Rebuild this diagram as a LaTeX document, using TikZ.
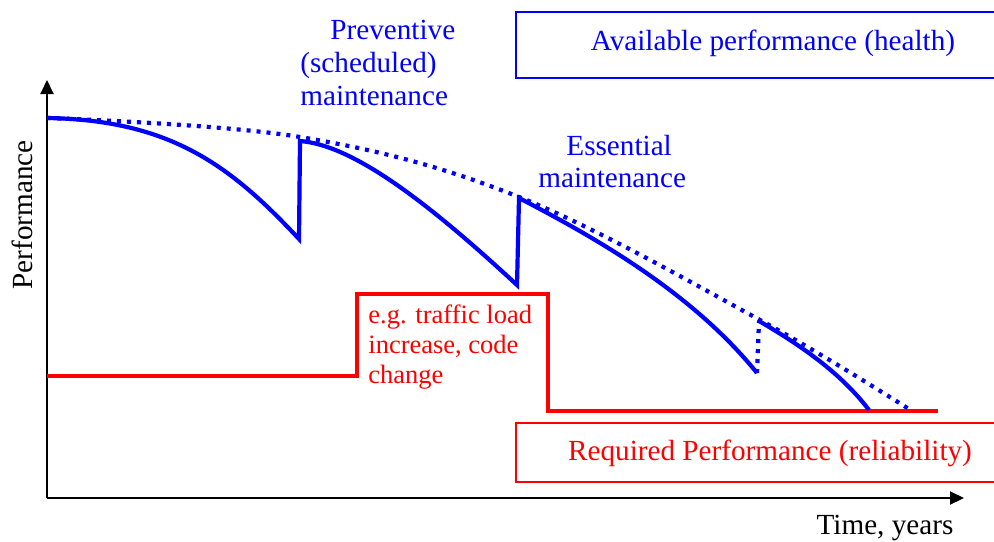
\documentclass[tikz,border=0pt]{standalone}
\usepackage{fontspec}
\setmainfont{Liberation Serif}
\usetikzlibrary{arrows.meta}
\definecolor{pblue}{RGB}{0,0,255}
\definecolor{pred}{RGB}{255,0,0}
\begin{document}
\begin{tikzpicture}[x=0.5pt,y=-0.5pt,
  lbl/.style={inner sep=0pt,font=\fontsize{14.6}{16.5}\selectfont},
  blab/.style={lbl,text=pblue},
  rlab/.style={lbl,text=pred},
  axis/.style={line width=1pt,-{Triangle[length=7pt,width=6.5pt]}},
  solidperf/.style={pblue,line width=2.1pt,line join=miter},
  dotperf/.style={pblue,line width=2.1pt,dash pattern=on 2pt off 3pt},
  reqline/.style={pred,line width=2.1pt},
  bluebox/.style={draw=pblue,line width=1pt},
  redbox/.style={draw=pred,line width=1pt}]
\useasboundingbox (0,0) rectangle (994,541);
% axes
\coordinate (O) at (47,498);
\coordinate (Ytop) at (47,80);
\coordinate (Xend) at (964,498);
\draw[axis] (O) -- (Ytop);
\draw[axis] (O) -- (Xend);
% boxes
\draw[bluebox] (516,12) rectangle (1004,78);
\node[blab,anchor=base] (avail) at (773,50) {Available performance (health)};
\draw[redbox] (516,423) rectangle (1004,482);
\node[rlab,anchor=base] (req) at (770,460) {Required Performance (reliability)};
% labels
\node[lbl,rotate=90] (perf) at (22,215) {Performance};
\node[lbl,anchor=base] (time) at (885,534) {Time, years};
\node[blab,anchor=base west,align=left] (prev) at (300,105) {\hspace*{15pt}Preventive\\(scheduled)\\maintenance};
\node[blab,anchor=base west,align=left,font=\fontsize{14.6}{16}\selectfont] (ess) at (538,187) {\hspace*{14pt}Essential\\maintenance};
\node[rlab,anchor=base west,align=left,font=\fontsize{13.25}{15}\selectfont] (eg) at (368,383) {e.g. traffic load\\increase, code\\change};
% required performance line
\coordinate (r0) at (47,376);
\coordinate (r1) at (357,376);
\coordinate (r2) at (357,294);
\coordinate (r3) at (548,294);
\coordinate (r4) at (548,411);
\coordinate (r5) at (938,411);
\draw[reqline] (r0) -- (r1) -- (r2) -- (r3) -- (r4) -- (r5);
% envelope
\draw[dotperf] plot[smooth,tension=0.6] coordinates {(47,118) (300,137) (519,197) (760,320) (912,411)};
% performance curve
\coordinate (p0) at (47,118);
\coordinate (p1) at (299,239);
\coordinate (p2) at (300,141);
\coordinate (p3) at (517,285);
\coordinate (p4) at (519,198);
\coordinate (p5) at (757,373);
\coordinate (p6) at (759,321);
\coordinate (p7) at (869,410);
\draw[solidperf] (p0) .. controls (170,120) and (230,165) .. (p1) -- (p2)
  .. controls (350,145) and (420,195) .. (p3) -- (p4)
  .. controls (590,235) and (690,290) .. (p5);
\draw[dotperf] (p5) -- (p6);
\draw[solidperf] (p6) .. controls (800,345) and (840,372) .. (p7);
\end{tikzpicture}
\end{document}
